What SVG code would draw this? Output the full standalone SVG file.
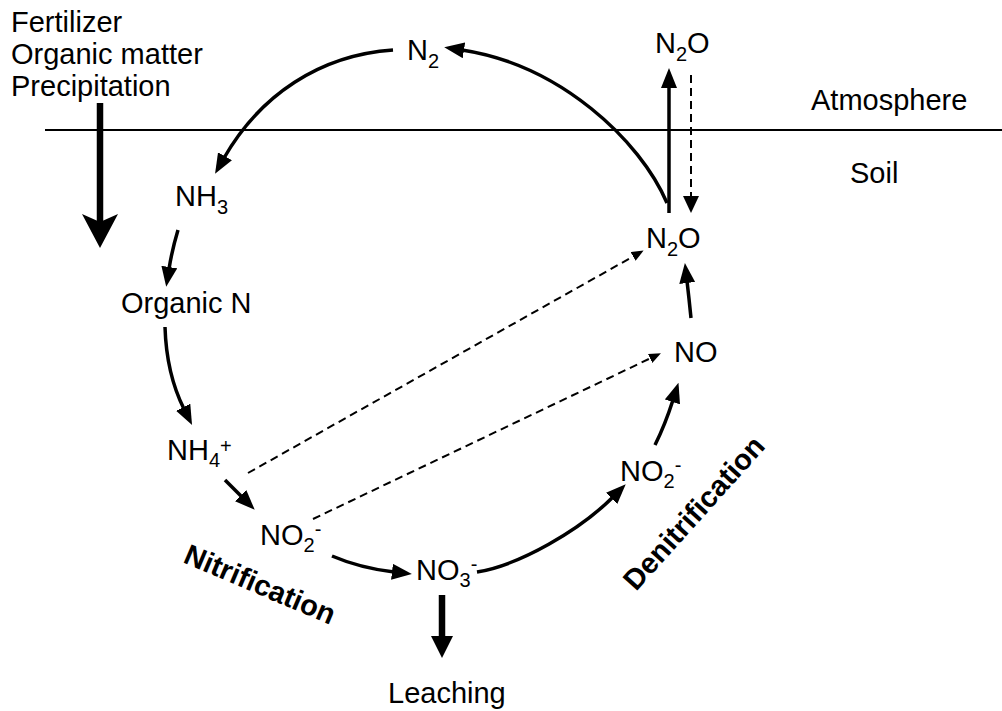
<svg xmlns="http://www.w3.org/2000/svg" width="1002" height="711" viewBox="0 0 1002 711">
<style>
text{font-family:"Liberation Sans",Arial,Helvetica,sans-serif;font-size:29px;fill:#000}
.s{font-size:20px}
.b{font-weight:bold;font-size:29px}
.sol{fill:none;stroke:#000;stroke-width:3.5}
.dsh{fill:none;stroke:#000;stroke-width:2;stroke-dasharray:8 5}
.thick{fill:none;stroke:#000;stroke-width:6.5}
</style>
<defs>
<marker id="ah" viewBox="0 0 20 16" refX="2" refY="8" markerWidth="20" markerHeight="16" markerUnits="userSpaceOnUse" orient="auto"><path d="M0,0 L20,8 L0,16 z" fill="#000"/></marker>
<marker id="ahm" viewBox="0 0 17 16" refX="1" refY="8" markerWidth="17" markerHeight="16" markerUnits="userSpaceOnUse" orient="auto"><path d="M0,0 L17,8 L0,16 z" fill="#000"/></marker>
<marker id="ahs" viewBox="0 0 12 10" refX="1" refY="5" markerWidth="12" markerHeight="10" markerUnits="userSpaceOnUse" orient="auto"><path d="M0,0 L12,5 L0,10 z" fill="#000"/></marker>
</defs>
<rect width="1002" height="711" fill="#fff"/>
<line x1="45" y1="130" x2="1002" y2="130" stroke="#000" stroke-width="2.2"/>
<g id="connectors">
<path class="sol" d="M667,203 C640,140 560,65 462,50" marker-end="url(#ah)"/>
<path class="sol" d="M393,50 C320,55 260,95 224,158" marker-end="url(#ah)"/>
<path class="sol" d="M178,230 Q172,250 169,269" marker-end="url(#ah)"/>
<path class="sol" d="M165,327 C166,360 172,385 184,409" marker-end="url(#ah)"/>
<path class="sol" d="M225,480 L242,497" marker-end="url(#ah)"/>
<path class="sol" d="M332,556 Q360,568 394,572" marker-end="url(#ah)"/>
<path class="sol" d="M477,572 C520,565 580,530 613,497" marker-end="url(#ah)"/>
<path class="sol" d="M655,445 Q665,425 673,400" marker-end="url(#ah)"/>
<path class="sol" d="M691,318 Q689,298 687,281" marker-end="url(#ah)"/>
<path class="sol" d="M669,213 L669,86" stroke-width="4" marker-end="url(#ah)"/>
<path class="dsh" d="M691,75 L691,197" marker-end="url(#ahm)"/>
<path class="dsh" d="M248,473 L634,256" marker-end="url(#ahs)"/>
<path class="dsh" d="M313,519 L651,358" marker-end="url(#ahs)"/>
<line class="thick" x1="100" y1="103" x2="100" y2="226"/>
<polygon points="82,214 100,248 118,214 100,222" fill="#000"/>
<line class="thick" x1="442" y1="595" x2="442" y2="640"/>
<polygon points="431,636 453,636 442,658" fill="#000"/>
</g>
<g id="n-inputs"><text x="11" y="32">Fertilizer</text><text x="11" y="64">Organic matter</text><text x="11" y="96">Precipitation</text></g>
<g id="n-n2"><text x="407" y="60">N<tspan class="s" dy="8">2</tspan></text></g>
<g id="n-n2o-atm"><text x="655" y="53">N<tspan class="s" dy="8">2</tspan><tspan dy="-8">O</tspan></text></g>
<g id="n-atmosphere"><text x="811" y="110">Atmosphere</text></g>
<g id="n-soil"><text x="850" y="183">Soil</text></g>
<g id="n-n2o-soil"><text x="646" y="248">N<tspan class="s" dy="8">2</tspan><tspan dy="-8">O</tspan></text></g>
<g id="n-nh3"><text x="175" y="206">NH<tspan class="s" dy="8">3</tspan></text></g>
<g id="n-orgn"><text x="121" y="313">Organic N</text></g>
<g id="n-nh4"><text x="167" y="460">NH<tspan class="s" dy="7">4</tspan><tspan class="s" dy="-14">+</tspan></text></g>
<g id="n-no2a"><text x="260" y="545">NO<tspan class="s" dy="7">2</tspan><tspan class="s" dy="-16">-</tspan></text></g>
<g id="n-no3"><text x="416" y="580">NO<tspan class="s" dy="7">3</tspan><tspan class="s" dy="-16">-</tspan></text></g>
<g id="n-leaching"><text x="388" y="703">Leaching</text></g>
<g id="n-no2b"><text x="620" y="481">NO<tspan class="s" dy="7">2</tspan><tspan class="s" dy="-16">-</tspan></text></g>
<g id="n-no"><text x="674" y="362">NO</text></g>
<g id="label-nitrification"><text class="b" transform="translate(182,562) rotate(23)">Nitrification</text></g>
<g id="label-denitrification"><text class="b" transform="translate(636,592) rotate(-48)">Denitrification</text></g>
</svg>
